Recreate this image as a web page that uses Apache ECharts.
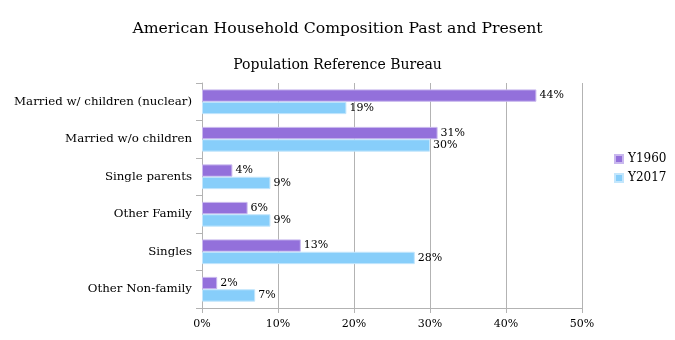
<!DOCTYPE html>
<html><head><meta charset="utf-8">
<script src="https://cdn.jsdelivr.net/npm/echarts@6/dist/echarts.min.js"></script>
<style>html,body{margin:0;padding:0;background:#fff}#c{width:675px;height:340px}</style>
</head><body><div id="c"></div>
<script>
const categories = ["Married w/ children (nuclear)", "Married w/o children", "Single parents", "Other Family", "Singles", "Other Non-family"];
const y1960 = [44, 31, 4, 6, 13, 2];
const y2017 = [19, 30, 9, 9, 28, 7];
const seriesNames = ["Y1960", "Y2017"];
const xTicks = [0, 10, 20, 30, 40, 50];

const FONT = '"DejaVu Serif", "Liberation Serif", serif';
const chart = echarts.init(document.getElementById('c'), null, {renderer: 'canvas'});
const lbl = {show: true, position: 'right', distance: 3, formatter: p => p.value + '%', color: '#000', fontFamily: FONT, fontSize: 11};
chart.setOption({
  animation: false,
  title: [
    {text: 'American Household Composition Past and Present', left: 'center', top: 16, textStyle: {fontFamily: FONT, fontSize: 15.7, fontWeight: 'normal', color: '#000'}},
    {text: 'Population Reference Bureau', left: 'center', top: 53, textStyle: {fontFamily: FONT, fontSize: 14, fontWeight: 'normal', color: '#000'}}
  ],
  legend: {
    orient: 'vertical', left: 609, top: 148, itemWidth: 8, itemHeight: 8, itemGap: 7,
    icon: 'rect',
    textStyle: {fontFamily: FONT, fontSize: 12, color: '#000'},
    data: seriesNames
  },
  grid: {left: 202, right: 93, top: 83, bottom: 32},
  xAxis: {
    type: 'value', min: xTicks[0], max: xTicks[xTicks.length - 1], interval: 10,
    axisLine: {show: true, lineStyle: {color: '#b3b3b3'}},
    axisTick: {show: true, length: 5, lineStyle: {color: '#b3b3b3'}},
    splitLine: {show: true, lineStyle: {color: '#b3b3b3'}},
    axisLabel: {formatter: v => v + '%', color: '#000', fontFamily: FONT, fontSize: 11, margin: 11}
  },
  yAxis: {
    type: 'category', data: categories, inverse: true,
    axisLine: {show: true, lineStyle: {color: '#b3b3b3'}},
    axisTick: {show: true, length: 6, lineStyle: {color: '#b3b3b3'}},
    axisLabel: {color: '#000', fontFamily: FONT, fontSize: 11.8, margin: 10}
  },
  series: [
    {name: seriesNames[0], type: 'bar', data: y1960, barGap: '0%', barCategoryGap: '34%',
     itemStyle: {color: '#9370db', borderColor: '#c9b8ee', borderWidth: 1}, label: lbl},
    {name: seriesNames[1], type: 'bar', data: y2017,
     itemStyle: {color: '#87cefa', borderColor: '#c3e6fc', borderWidth: 1}, label: lbl}
  ]
});
</script></body></html>
